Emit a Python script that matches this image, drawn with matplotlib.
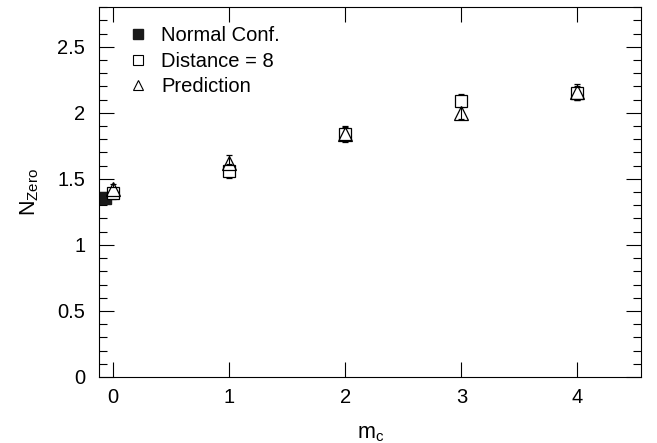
import numpy as np
import matplotlib
matplotlib.use("Agg")
import matplotlib.pyplot as plt
from matplotlib.ticker import MultipleLocator
from matplotlib.lines import Line2D

plt.rcParams['font.family'] = ['Liberation Sans', 'DejaVu Sans']
plt.rcParams['mathtext.default'] = 'regular'

# normal configuration (single point, drawn slightly left of m_c = 0)
x_normal = [-0.07]
y_normal = [1.355]
e_normal = [0.03]

# distance = 8
x_dist = [0, 1, 2, 3, 4]
y_dist = [1.39, 1.56, 1.84, 2.09, 2.15]
e_dist = [0.04, 0.05, 0.05, 0.05, 0.05]

# prediction
x_pred = [0, 1, 2, 3, 4]
y_pred = [1.42, 1.62, 1.84, 2.00, 2.16]
e_pred = [0.04, 0.06, 0.06, 0.05, 0.06]

fig, ax = plt.subplots(figsize=(6.57, 4.43), dpi=100)
fig.subplots_adjust(left=0.151, right=0.976, top=0.984, bottom=0.149)

err_kw = dict(ecolor='black', elinewidth=0.8, capsize=2, capthick=0.8, linestyle='none')
ax.errorbar(x_normal, y_normal, yerr=e_normal, fmt='s', ms=8.5, mfc='#1a1a1a', mec='#1a1a1a', **err_kw)
ax.errorbar(x_dist, y_dist, yerr=e_dist, fmt='s', ms=8.5, mfc='white', mec='black', mew=0.9, **err_kw)
ax.errorbar(x_pred, y_pred, yerr=e_pred, fmt='^', ms=9.5, mfc='none', mec='black', mew=0.9, **err_kw)

ax.set_xlim(-0.12, 4.55)
ax.set_ylim(0, 2.8)
ax.set_xticks([0, 1, 2, 3, 4])
ax.set_yticks([0, 0.5, 1, 1.5, 2, 2.5])
ax.set_yticklabels(['0', '0.5', '1', '1.5', '2', '2.5'])
ax.yaxis.set_minor_locator(MultipleLocator(0.1))
ax.tick_params(which='both', direction='in', top=True, right=True, labelsize=14.5)
ax.tick_params(which='major', length=11, width=0.8)
ax.tick_params(which='minor', length=6, width=0.8)
ax.tick_params(axis='x', pad=8)
ax.tick_params(axis='y', pad=10)
for s in ax.spines.values():
    s.set_linewidth(0.8)

ax.set_xlabel('m$_c$', fontsize=15.5)
ax.xaxis.set_label_coords(0.5, -0.125)
ax.set_ylabel('N$_{Zero}$', fontsize=15.5)
ax.yaxis.set_label_coords(-0.108, 0.5)

handles = [
    Line2D([], [], marker='s', ls='none', ms=6.5, mfc='#1a1a1a', mec='#1a1a1a'),
    Line2D([], [], marker='s', ls='none', ms=6.5, mfc='white', mec='black', mew=0.8),
    Line2D([], [], marker='^', ls='none', ms=7, mfc='none', mec='black', mew=0.8),
]
labels = ['Normal Conf.', 'Distance = 8', 'Prediction']
ax.legend(handles, labels, loc='upper left', bbox_to_anchor=(0.0535, 0.948), frameon=False,
          fontsize=14.5, handlelength=1.0, handletextpad=0.65, labelspacing=0.32,
          borderpad=0, borderaxespad=0)

fig.savefig('out.png', dpi=100)
